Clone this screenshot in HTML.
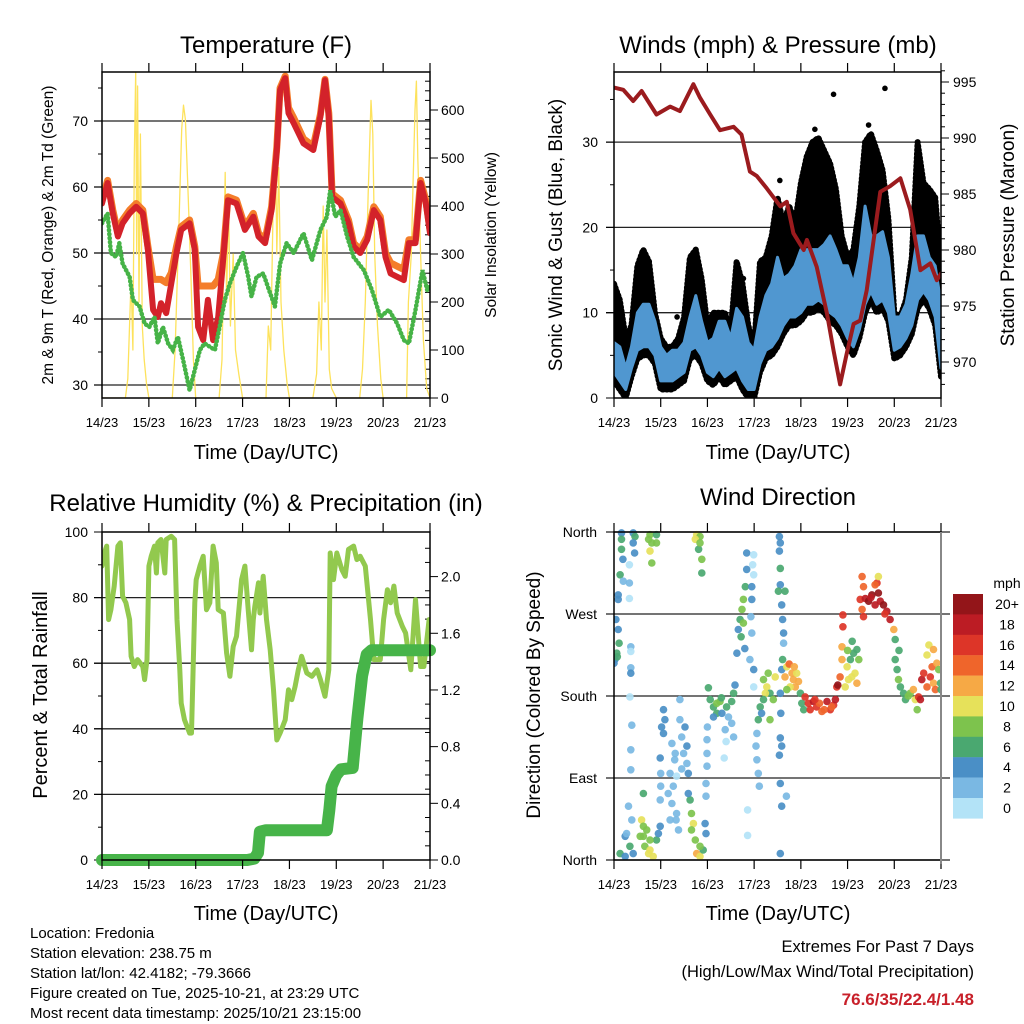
<!DOCTYPE html>
<html><head><meta charset="utf-8"><style>
body{margin:0;background:#fff}
svg{display:block;font-family:"Liberation Sans",Arial,sans-serif}
</style></head><body>
<svg id="chart" width="1024" height="1024" viewBox="0 0 1024 1024">
<defs>
<clipPath id="c1"><rect x="102" y="72" width="328" height="326"/></clipPath>
<clipPath id="c2"><rect x="614" y="72" width="327" height="326"/></clipPath>
<clipPath id="c3"><rect x="102" y="532" width="328" height="328"/></clipPath>
<clipPath id="c4"><rect x="614" y="528" width="327" height="336"/></clipPath>
</defs>
<g id="layer"></g>
<g font-size="24" text-anchor="middle" fill="#000">
<text x="266" y="53">Temperature (F)</text>
<text x="778" y="53">Winds (mph) &amp; Pressure (mb)</text>
<text x="266" y="511">Relative Humidity (%) &amp; Precipitation (in)</text>
<text x="778" y="505">Wind Direction</text>
</g>
<g font-size="20" text-anchor="middle">
<text x="266" y="459">Time (Day/UTC)</text>
<text x="778" y="459">Time (Day/UTC)</text>
<text x="266" y="920">Time (Day/UTC)</text>
<text x="778" y="920">Time (Day/UTC)</text>
</g>
<g text-anchor="middle">
<text font-size="15.5" transform="translate(53,235) rotate(-90)">2m &amp; 9m T (Red, Orange) &amp; 2m Td (Green)</text>
<text font-size="15.5" transform="translate(496,235) rotate(-90)">Solar Insolation (Yellow)</text>
<text font-size="19" transform="translate(562,235) rotate(-90)">Sonic Wind &amp; Gust (Blue, Black)</text>
<text font-size="19" transform="translate(1014,235) rotate(-90)">Station Pressure (Maroon)</text>
<text font-size="20" transform="translate(47,695) rotate(-90)">Percent &amp; Total Rainfall</text>
<text font-size="19" transform="translate(540,695) rotate(-90)">Direction (Colored By Speed)</text>
</g>
<g font-size="15">
<text x="30" y="938">Location: Fredonia</text>
<text x="30" y="958">Station elevation: 238.75 m</text>
<text x="30" y="978">Station lat/lon: 42.4182; -79.3666</text>
<text x="30" y="998">Figure created on Tue, 2025-10-21, at 23:29 UTC</text>
<text x="30" y="1018">Most recent data timestamp: 2025/10/21 23:15:00</text>
</g>
<g font-size="16.5" text-anchor="end">
<text x="974" y="952">Extremes For Past 7 Days</text>
<text x="974" y="977">(High/Low/Max Wind/Total Precipitation)</text>
<text x="974" y="1005" font-weight="bold" fill="#c8202a" font-size="17">76.6/35/22.4/1.48</text>
</g>
<text x="1007" y="588" font-size="14" text-anchor="middle">mph</text>
</svg>
<script>
// ---------- data ----------
const dayLabels = ["14/23","15/23","16/23","17/23","18/23","19/23","20/23","21/23"];
const tempTicks = [30,40,50,60,70];
const solarTicks = [0,100,200,300,400,500,600];
const windTicks = [0,10,20,30];
const presTicks = [970,975,980,985,990,995];
const rhTicks = [0,20,40,60,80,100];
const precTicks = ["0.0","0.4","0.8","1.2","1.6","2.0"];
const dirTicks = ["North","East","South","West","North"];
const speedBins = ["0","2","4","6","8","10","12","14","16","18","20+"];

const tempTimes = [0,.12,.23,.34,.44,.59,.73,.87,.98,1.09,1.19,1.26,1.37,1.48,1.59,1.69,1.87,1.98,2.05,2.16,2.26,2.37,2.48,2.59,2.69,2.87,3.05,3.23,3.34,3.48,3.62,3.73,3.8,3.91,3.98,4.09,4.3,4.51,4.66,4.76,4.84,4.91,5.09,5.26,5.37,5.51,5.66,5.8,5.94,6.05,6.16,6.3,6.44,6.55,6.69,6.8,6.91,7.0];
const temp2m = [57.5,60.6,56.0,52.5,54.5,56.0,57.0,56.0,50.5,41.4,40.3,42.4,40.9,45.4,50.0,53.5,54.5,50.5,38.8,36.8,42.9,36.8,40.3,49.4,58.0,57.5,53.5,55.5,52.5,51.5,56.5,65.6,74.7,76.5,71.2,69.7,66.6,65.6,70.7,76.2,70.7,58.5,57.5,54.5,51.0,50.0,52.0,56.5,55.0,49.4,46.9,46.4,45.9,51.5,51.5,60.6,57.5,53.0];
const temp9m = [58.0,61.0,56.5,53.0,55.0,56.5,57.5,56.5,51.0,46.0,46.0,46.0,45.5,47.0,51.0,54.0,55.0,51.0,45.0,45.0,45.0,45.0,46.0,50.0,58.5,58.0,54.0,56.0,53.0,52.0,57.0,66.0,75.0,76.8,72.0,70.5,67.3,66.2,71.0,76.3,71.2,59.0,58.0,55.0,51.5,50.5,52.5,57.0,55.5,50.0,48.5,48.0,47.5,52.0,52.0,61.0,58.0,53.5];
const dewTimes = [0,.12,.19,.3,.37,.44,.59,.66,.8,.91,1.01,1.12,1.19,1.3,1.41,1.51,1.62,1.73,1.87,1.98,2.09,2.19,2.3,2.41,2.51,2.62,2.73,2.87,3.01,3.12,3.19,3.3,3.44,3.59,3.69,3.8,3.94,4.09,4.3,4.48,4.66,4.8,4.87,4.98,5.09,5.23,5.37,5.59,5.76,5.94,6.12,6.3,6.44,6.55,6.69,6.84,6.94,7.0];
const dewPoint = [54.5,56.0,50.0,49.4,51.5,48.4,46.4,42.9,41.9,39.3,38.8,40.3,36.3,38.8,36.3,35.3,37.3,33.8,29.2,32.3,35.3,36.3,35.8,35.3,38.8,42.9,45.4,47.9,50.0,46.4,43.4,46.4,46.9,43.9,41.9,48.4,51.5,50.0,53.0,48.9,53.5,55.5,59.5,55.5,56.5,52.5,49.4,47.4,44.4,40.3,41.4,39.3,36.8,36.3,41.4,47.4,44.4,44.9];
const solarTimes = [0,0.5,0.55,0.62,0.66,0.69,0.72,0.74,0.76,0.79,0.82,0.86,0.9,0.95,1.0,1.5,1.56,1.64,1.7,1.74,1.78,1.84,1.9,1.95,2.0,2.5,2.56,2.6,2.63,2.66,2.7,2.74,2.8,2.85,2.92,3.0,3.5,3.55,3.6,3.66,3.7,3.73,3.77,3.82,3.88,3.95,4.0,4.5,4.58,4.63,4.68,4.72,4.76,4.8,4.85,4.9,5.0,5.5,5.56,5.62,5.68,5.74,5.78,5.82,5.88,5.95,6.0,6.5,6.54,6.6,6.64,6.68,6.71,6.74,6.8,6.86,6.93,7.0];
const solarVals = [0,0,40,250,100,500,680,300,650,200,550,150,80,30,0,0,100,350,560,610,580,420,250,80,0,0,80,300,470,200,420,150,300,100,50,0,0,150,100,450,560,300,480,200,100,30,0,0,50,200,100,400,200,350,60,20,0,0,60,200,420,620,550,300,150,40,0,0,200,300,450,600,660,500,300,120,20,0];

const windStep = 0.125;
const windLo = [3,2,1,3.5,5.6,6,6,5,2,2,2,2.5,3,5.6,6,5,3,2.5,3.5,2.5,3,3.5,2,1,1,4,5.6,6,7,8.5,9.5,9.5,10,11,11,11.5,11,10,9.5,8.5,7,6,8,11,12.5,11,11.5,10,5.6,6,7,8.5,11.5,12.5,11.5,9.5,3.5];
const windHi = [6.5,6,3.5,6,10,11,11,9,6,5,5.6,5.6,6.5,9.5,12,9,6.5,7,9,9,7,10.5,9.5,6.5,5.6,9.5,12,13.4,16.5,14,14.5,15.5,17.4,17.4,17.4,17.4,18,19,17.4,15.5,15.5,13.4,16.5,22.5,19,19,19.5,16.5,9.5,9.5,11,14.5,19,19,16.5,15.5,11];
const gustHi = [13.4,11.5,7,8.5,15.5,17.4,16,10,7,6,6,7,9.5,16.5,17.4,14,8.5,10,10,10,8,16,13.4,8.5,6,16,16.5,19,23.5,20.5,22.5,20.5,25.2,28.3,30,30.5,29,27.5,24.5,19,16.5,17.4,22.5,30,31,29,26.7,21,10,9.5,11.5,16.5,30,25.2,24.5,23.5,15.5];
const gustOutT = [4.7,5.8,3.55,4.3,5.45,1.35,2.77];
const gustOutV = [35.6,36.3,25.5,31.5,32,9.5,14];
const presTimes = [0,0.2,0.41,0.59,0.91,1.2,1.41,1.7,1.84,2.06,2.27,2.56,2.73,2.91,3.06,3.27,3.56,3.7,3.84,4.06,4.13,4.34,4.56,4.7,4.84,4.98,5.13,5.27,5.41,5.7,5.91,6.13,6.34,6.56,6.77,6.91,7.0];
const presVals = [994.5,994.3,993.3,994.2,992.1,992.8,992.4,994.8,993.6,992.1,990.7,991.0,990.3,987.0,986.6,985.5,983.9,984.3,981.5,980.0,980.9,978.5,974.3,971.0,968.0,970.7,973.4,973.7,976.4,985.2,985.7,986.4,983.6,978.2,978.8,977.3,977.9];

const rhTimes = [0,.05,.1,.14,.19,.26,.34,.39,.44,.51,.59,.62,.69,.76,.87,.91,.96,1.0,1.05,1.12,1.16,1.19,1.26,1.34,1.37,1.48,1.55,1.6,1.66,1.69,1.76,1.87,1.91,1.98,2.01,2.09,2.16,2.23,2.3,2.37,2.44,2.48,2.59,2.66,2.73,2.8,2.87,2.98,3.05,3.12,3.19,3.23,3.26,3.34,3.37,3.44,3.51,3.59,3.66,3.73,3.8,3.91,3.98,4.05,4.12,4.19,4.26,4.37,4.48,4.59,4.66,4.76,4.84,4.87,4.94,5.01,5.12,5.19,5.26,5.37,5.44,5.51,5.62,5.73,5.8,5.87,5.94,6.01,6.09,6.16,6.23,6.3,6.41,6.48,6.59,6.69,6.8,6.87,6.98,7.0];
const rhVals = [89.6,93.6,95.7,73.3,76.3,83.5,95.7,96.7,80.4,78.4,73.3,62.1,59.0,61.1,59.0,55.0,61.1,89.6,92.6,95.7,87.5,96.7,97.7,87.5,97.7,98.7,97.7,73.3,58.0,47.8,42.7,38.7,38.7,78.4,85.5,89.6,92.6,76.3,78.4,95.7,90.6,76.3,75.3,63.1,56.0,65.1,68.2,85.5,89.6,76.3,64.1,73.3,77.3,84.5,75.3,86.5,73.3,64.1,51.9,36.6,38.7,42.7,51.9,48.9,52.9,58.0,62.1,57.0,56.0,58.0,55.0,49.9,58.0,93.6,85.5,93.6,88.5,86.5,94.7,95.7,91.6,92.6,89.6,73.3,61.1,61.1,61.1,73.3,82.4,78.4,83.5,75.3,71.2,69.2,58.0,79.4,59.0,59.0,73.3,73.3];
const precTimes = [0,3.1,3.25,3.33,3.37,3.5,4.8,4.85,4.9,5.0,5.1,5.35,5.45,5.55,5.65,5.75,7.0];
const precVals = [0,0,0.01,0.05,0.2,0.21,0.21,0.35,0.52,0.6,0.64,0.65,1.0,1.3,1.45,1.48,1.48];

// wind direction observations: [day, degrees, mph]
const dirObs = [
[.16,359,4],[.16,352,6],[.16,341,6],[.19,330,4],[.13,313,6],[.09,291,4],[.09,286,4],[.2,306,2],[.04,264,4],[.09,253,4],[.11,238,6],[.06,227,6],[.02,220,4],[0,216,4],[.07,223,6],
[.41,359,4],[.45,355,6],[.41,348,4],[.44,337,4],[.33,324,1],[.33,304,2],[.33,287,1],[.36,234,2],[.36,229,1],[.36,211,2],[.36,205,4],[.34,179,1],[.38,148,2],[.36,121,2],[.36,99,2],
[.77,357,8],[.81,348,8],[.77,339,10],[.81,326,8],[.91,357,6],[.91,348,8],[.74,352,8],
[1.77,357,10],[1.84,355,8],[1.81,341,6],[1.88,330,8],[1.88,315,6],[1.74,352,10],[1.84,348,8],
[.13,7,6],[.24,26,4],[.27,29,2],[.31,59,2],[.38,44,2],[.24,4,4],[.34,15,6],[.41,7,4],
[.59,44,10],[.63,37,8],[.63,26,8],[.66,15,8],[.74,7,10],[.77,11,10],[.84,4,10],[.91,22,6],[.95,29,4],[.99,37,4],[.63,73,6],[.7,33,8],[.77,22,8],[.56,26,8],
[1.63,66,6],[1.66,51,8],[1.7,40,10],[1.74,22,8],[1.77,7,12],[1.84,4,10],[1.91,11,6],[1.95,40,4],[1.97,29,4],[1.84,15,8],[1.66,33,8],
[1.06,165,4],[1.09,154,4],[1.02,146,4],[1.06,139,4],[.99,112,4],[1.0,95,2],[1.0,81,2],[.99,66,2],[1.24,128,2],[1.31,117,2],[1.2,95,2],[1.27,81,2],[1.24,62,2],[1.34,51,2],[1.41,176,2],[1.41,154,2],[1.45,135,2],[1.49,117,2],[1.52,146,4],[1.56,125,4],[1.59,95,4],[1.59,73,4],[1.33,44,2],[1.38,33,2],[1.2,44,2],[1.34,92,1],[1.16,73,2],[1.56,106,2],[1.3,110,2],[1.45,100,2],
[1.99,132,2],[1.99,117,2],[1.99,103,2],[1.97,84,2],[1.97,70,2],[2.0,146,2],
[2.02,189,6],[2.06,176,6],[2.13,168,6],[2.27,174,8],[2.2,161,6],[2.13,157,4],[2.41,168,6],[2.52,174,6],[2.56,183,6],[2.59,192,4],[2.45,157,2],[2.38,143,2],[2.4,130,1],[2.36,112,1],[2.52,150,2],[2.56,135,2],[2.31,161,4],[2.2,172,8],[2.3,178,6],
[2.84,337,4],[2.84,319,4],[2.81,300,6],[2.77,286,8],[2.74,275,8],[2.7,264,6],[2.66,253,4],[2.63,227,4],[2.77,260,8],[2.95,300,4],[2.95,286,4],[2.93,267,2],[2.99,335,1],[2.97,324,1],[2.99,313,1],[2.95,249,2],[2.99,209,4],[2.99,190,1],[2.86,55,1],[2.86,27,1],[2.91,220,2],[2.72,245,6],[2.8,232,4],
[3.2,198,8],[3.27,190,10],[3.34,183,6],[3.41,176,8],[3.24,183,10],[3.13,168,6],[3.09,154,6],[3.16,161,4],[3.06,139,2],[3.04,125,2],[3.06,110,2],[3.09,95,2],[3.11,81,2],[3.34,154,8],[3.2,176,6],[3.45,201,10],[3.3,205,8],
[3.54,355,4],[3.56,348,4],[3.54,339,4],[3.56,320,6],[3.56,302,4],[3.52,295,6],[3.66,295,6],[3.59,280,4],[3.61,264,4],[3.63,249,4],[3.63,238,2],[3.61,220,6],[3.59,209,4],[3.56,183,4],[3.57,161,4],[3.56,134,4],[3.59,125,4],[3.54,115,4],[3.56,84,4],[3.59,59,4],[3.69,70,2],[3.56,7,4],
[3.7,212,10],[3.81,205,12],[3.84,198,12],[3.88,190,12],[3.77,190,10],[3.7,187,8],[3.91,205,10],[3.66,201,12],[3.75,215,14],[3.86,212,13],[3.95,196,12],
[3.99,183,6],[4.02,172,6],[4.09,179,16],[4.16,172,16],[4.27,174,18],[4.34,168,16],[4.45,163,14],[4.56,174,18],[4.63,165,16],[4.7,170,16],[4.74,176,18],[4.77,190,16],[4.79,192,20],[4.84,201,14],[4.88,220,12],[4.88,234,12],[4.9,256,16],[4.9,269,16],[4.06,165,6],[4.2,165,17],[4.4,172,15],[4.5,165,14],[4.66,168,15],[4.3,176,16],
[4.99,212,10],[5.06,220,6],[5.09,201,10],[5.13,227,6],[5.2,231,6],[5.24,220,8],[5.16,205,10],[5.2,194,12],[5.02,198,10],[4.95,190,10],[5.1,240,6],[5.0,230,8],
[5.31,311,14],[5.34,300,14],[5.27,286,16],[5.31,275,14],[5.38,287,18],[5.45,284,20],[5.52,291,20],[5.59,280,18],[5.66,293,20],[5.7,284,18],[5.63,304,16],[5.66,311,10],[5.77,280,20],[5.84,273,18],[5.91,264,18],[5.99,253,12],[5.34,267,16],[5.59,302,14],[5.5,288,19],[5.8,270,17],
[6.02,242,6],[6.02,220,6],[6.06,209,6],[6.09,198,8],[6.13,190,6],[6.2,183,6],[6.24,176,6],[6.34,183,8],[6.45,176,10],[6.49,165,8],[6.52,179,16],[6.56,176,18],[6.59,198,18],[6.63,205,16],[6.7,190,14],[6.77,201,16],[6.81,212,14],[6.84,194,12],[6.88,187,14],[6.91,216,12],[6.99,194,6],[7.0,187,6],[6.74,236,10],[6.7,225,10],[6.84,231,12],[6.95,209,8],[6.41,187,12],[6.1,230,6],[6.3,180,9]
];

// ---------- geometry ----------
const NS = "http://www.w3.org/2000/svg";
const layer = document.getElementById('layer');
const P1 = {x0:102,x1:430,y0:72,y1:398,clip:'c1'};
const P2 = {x0:614,x1:941,y0:72,y1:398,clip:'c2'};
const P3 = {x0:102,x1:430,y0:532,y1:860,clip:'c3'};
const P4 = {x0:614,x1:941,y0:532,y1:860,clip:'c4'};
function xT(p,t){return p.x0 + t*(p.x1-p.x0)/7;}
const yTemp = v => 385 - (v-30)*6.6;
const ySolar = v => 398 - v*0.48;
const yWind = v => 398 - v*8.53;
const yPres = v => 82 + (995-v)*11.2;
const yRH = v => 860 - v*3.28;
const yPrec = v => 860 - v*141.7;
const yDir = v => 860 - v*328/360;
const speedColors = ["#b3e3f7","#7ab8e3","#4a8fc6","#4aa870","#7dc34d","#e6e15a","#f6a945","#ef652b","#dd3528","#bc1c24","#931519"];

function el(tag, attrs, parent){
  const e = document.createElementNS(NS, tag);
  for (const k in attrs) e.setAttribute(k, attrs[k]);
  (parent||layer).appendChild(e);
  return e;
}
function group(clip){
  const g = el('g', clip ? {'clip-path':'url(#'+clip+')'} : {});
  return g;
}
function pathFrom(p, ts, vs, yf){
  let d = '';
  const n = Math.min(ts.length, vs.length);
  for (let i=0;i<n;i++){ d += (i? 'L':'M') + xT(p,ts[i]).toFixed(1) + ' ' + yf(vs[i]).toFixed(1); }
  return d;
}
function hline(p, y, name){
  const l = el('line',{x1:p.x0-8,x2:p.x1+(p===P4?9:0),y1:y,y2:y,stroke:'#222','stroke-width':1.3});
  
  
}
function frame(p, name){
  const r = el('rect',{x:p.x0,y:p.y0,width:p.x1-p.x0,height:p.y1-p.y0,fill:'none',stroke:'#000','stroke-width':1.5});
  
  
  for (let d=0; d<=7; d++){
    const x = xT(p,d);
    const t1 = el('line',{x1:x,x2:x,y1:p.y0-9,y2:p.y0,stroke:'#000','stroke-width':1.2});
    
    
    const t2 = el('line',{x1:x,x2:x,y1:p.y1,y2:p.y1+9,stroke:'#000','stroke-width':1.2});
    
    
    const lb = el('text',{x:x,y:p.y1+29,'font-size':13,'text-anchor':'middle'});
    lb.textContent = dayLabels[d];
    
    
  }
}
function yLabel(x, y, txt, anchor, name){
  const t = el('text',{x:x,y:y+5,'font-size':14,'text-anchor':anchor});
  t.textContent = txt;
  
  
}
function tick(x1,x2,y,name){
  const t = el('line',{x1:x1,x2:x2,y1:y,y2:y,stroke:'#000','stroke-width':1});
  
  
}

// ---------- Panel 1: temperature ----------
tempTicks.forEach(v => { hline(P1, yTemp(v), 'temp-gridline'); yLabel(88, yTemp(v), String(v), 'end', 'temp-tick-label'); });
for (let v=25; v<=80; v+=5){ const y=yTemp(v); if (y>=P1.y0 && y<=P1.y1) tick(P1.x0-(v%10?4:8),P1.x0,y,'temp-tick'); }
solarTicks.forEach(v => { tick(P1.x1,P1.x1+8,ySolar(v),'solar-tick'); yLabel(441, ySolar(v), String(v), 'start', 'solar-tick-label'); });
for (let v=20; v<680; v+=20){ const y=ySolar(v); if (y>=P1.y0 && v%100) tick(P1.x1-5,P1.x1,y,'solar-minor-tick'); }
{
  const g = group(P1.clip);
  const s = el('path',{d:pathFrom(P1,solarTimes,solarVals,ySolar),fill:'none',stroke:'#fde25c','stroke-width':1.3,'stroke-linejoin':'round'},g);
  
  
  const o = el('path',{d:pathFrom(P1,tempTimes,temp9m,yTemp),fill:'none',stroke:'#f47d2a','stroke-width':7,'stroke-linejoin':'round','stroke-linecap':'round'},g);
  
  
  const r = el('path',{d:pathFrom(P1,tempTimes,temp2m,yTemp),fill:'none',stroke:'#d3222a','stroke-width':6,'stroke-linejoin':'round','stroke-linecap':'round'},g);
  
  
  const gr = el('path',{d:pathFrom(P1,dewTimes,dewPoint,yTemp),fill:'none',stroke:'#46b347','stroke-width':4.5,'stroke-dasharray':'0.5 3.5','stroke-linecap':'round'},g);
  
  
}
frame(P1, 'temperature-plot-frame');

// ---------- Panel 2: winds ----------
windTicks.forEach(v => { if (v>0) hline(P2, yWind(v), 'wind-gridline'); tick(P2.x0-8,P2.x0,yWind(v),'wind-tick'); yLabel(598, yWind(v), String(v), 'end', 'wind-tick-label'); });
[5,15,25,35].forEach(v => tick(P2.x0-4,P2.x0,yWind(v),'wind-minor-tick'));
presTicks.forEach(v => { tick(P2.x1,P2.x1+8,yPres(v),'pressure-tick'); yLabel(953, yPres(v), String(v), 'start', 'pressure-tick-label'); });
for (let v=968; v<=996; v++){ if (v%5) tick(P2.x1,P2.x1+4,yPres(v),'pressure-minor-tick'); }
{
  const g = group(P2.clip);
  let top='', bot='';
  for (let i=0;i<gustHi.length;i++){ top += (i?'L':'M') + xT(P2,i*windStep).toFixed(1)+' '+yWind(gustHi[i]).toFixed(1); }
  for (let i=windLo.length-1;i>=0;i--){ bot += 'L' + xT(P2,i*windStep).toFixed(1)+' '+yWind(Math.max(0,windLo[i]-1)).toFixed(1); }
  const gb = el('path',{d:top+bot+'Z',fill:'#000',stroke:'#000','stroke-width':6,'stroke-dasharray':'1 3','stroke-linecap':'round','stroke-linejoin':'round'},g);
  
  
  for (let i=0;i<gustOutT.length;i++){
    const c = el('circle',{cx:xT(P2,gustOutT[i]),cy:yWind(gustOutV[i]),r:2.8,fill:'#000'},g);
    
    
  }
  let t2='', b2='';
  for (let i=0;i<windHi.length;i++){ t2 += (i?'L':'M') + xT(P2,i*windStep).toFixed(1)+' '+yWind(windHi[i]).toFixed(1); }
  for (let i=windLo.length-1;i>=0;i--){ b2 += 'L' + xT(P2,i*windStep).toFixed(1)+' '+yWind(windLo[i]).toFixed(1); }
  const wb = el('path',{d:t2+b2+'Z',fill:'#5097d0',stroke:'#5097d0','stroke-width':3,'stroke-linejoin':'round'},g);
  
  
  const pr = el('path',{d:pathFrom(P2,presTimes,presVals,yPres),fill:'none',stroke:'#9b1b1e','stroke-width':4,'stroke-linejoin':'round','stroke-linecap':'round'},g);
  
  
}
frame(P2, 'winds-plot-frame');

// ---------- Panel 3: humidity & precipitation ----------
rhTicks.forEach(v => { if (v>0 && v<100) hline(P3, yRH(v), 'humidity-gridline'); tick(P3.x0-8,P3.x0,yRH(v),'humidity-tick'); yLabel(88, yRH(v), String(v), 'end', 'humidity-tick-label'); });
[10,30,50,70,90].forEach(v => tick(P3.x0-4,P3.x0,yRH(v),'humidity-minor-tick'));
precTicks.forEach(v => { tick(P3.x1,P3.x1+8,yPrec(+v),'precip-tick'); yLabel(441, yPrec(+v), v, 'start', 'precip-tick-label'); });
for (let v=0.1; v<2.3; v+=0.1){ if (Math.round(v*10)%4) tick(P3.x1-5,P3.x1,yPrec(v),'precip-minor-tick'); }
{
  const g = group(P3.clip);
  const rh = el('path',{d:pathFrom(P3,rhTimes,rhVals,yRH),fill:'none',stroke:'#92c94e','stroke-width':5,'stroke-linejoin':'round','stroke-linecap':'round'},g);
  
  
  const pc = el('path',{d:pathFrom(P3,precTimes,precVals,yPrec),fill:'none',stroke:'#47b449','stroke-width':12,'stroke-linejoin':'round','stroke-linecap':'round'});
  
  
}
frame(P3, 'humidity-plot-frame');

// ---------- Panel 4: wind direction ----------
dirTicks.forEach((lab,i) => { const y = yDir(i*90); hline(P4, y, 'direction-gridline'); yLabel(597, y, lab, 'end', 'direction-tick-label'); });
{
  const g = group(P4.clip);
  dirObs.forEach(o => {
    const bin = Math.min(10, Math.floor(o[2]/2));
    const c = el('circle',{cx:xT(P4,o[0]).toFixed(1),cy:yDir(o[1]).toFixed(1),r:3.8,fill:speedColors[bin],'fill-opacity':0.92},g);
    
    
  });
}
frame(P4, 'direction-plot-frame');
const rightBar = el('line',{x1:P4.x1,x2:P4.x1,y1:P4.y0,y2:P4.y1+4,stroke:'#888','stroke-width':2});



// colorbar
for (let i=0;i<speedBins.length;i++){
  const k = speedBins.length-1-i;
  const y = 594 + i*20.4;
  const r = el('rect',{x:953,y:y,width:30,height:20.6,fill:speedColors[k]});
  
  
  const t = el('text',{x:1007,y:y+15,'font-size':14,'text-anchor':'middle'});
  t.textContent = speedBins[k];
  
  
}
</script>
</body></html>
